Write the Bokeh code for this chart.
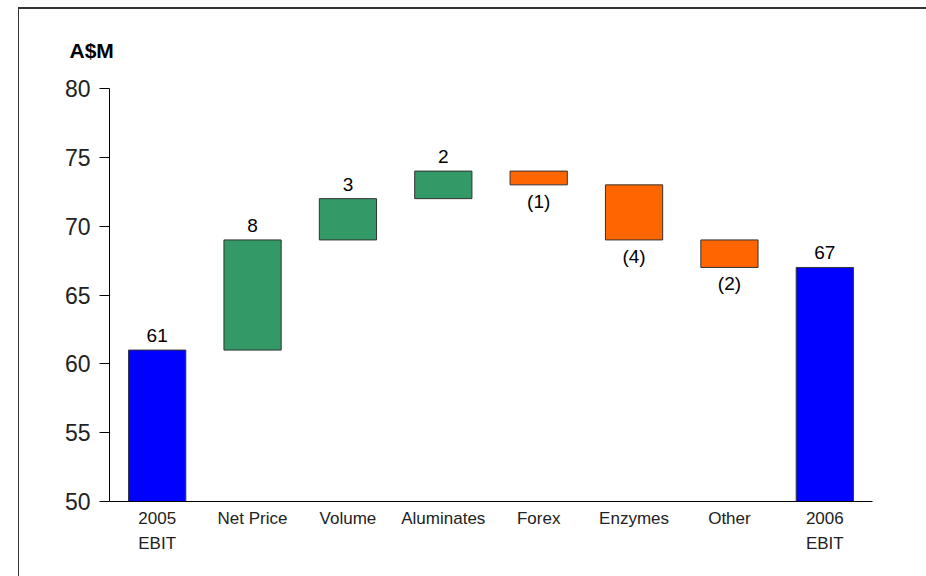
from bokeh.plotting import figure
from bokeh.models import ColumnDataSource, FixedTicker
from bokeh.core.properties import value
from bokeh.embed import file_html
from bokeh.resources import INLINE

categories = ["2005\nEBIT", "Net Price", "Volume", "Aluminates", "Forex", "Enzymes", "Other", "2006\nEBIT"]
start_value = 61
changes = [8, 3, 2, -1, -4, -2]
end_value = 67
y_ticks = [50, 55, 60, 65, 70, 75, 80]
unit_label = "A$M"

BLUE = "#0000FF"
GREEN = "#339966"
ORANGE = "#FF6600"

bottoms, tops, colors, labels = [50], [start_value], [BLUE], [str(start_value)]
cum = start_value
for c in changes:
    nxt = cum + c
    bottoms.append(min(cum, nxt))
    tops.append(max(cum, nxt))
    colors.append(GREEN if c > 0 else ORANGE)
    labels.append(str(c) if c > 0 else "(%d)" % (-c))
    cum = nxt
bottoms.append(50)
tops.append(end_value)
colors.append(BLUE)
labels.append(str(end_value))

kinds = ["total"] + ["up" if c > 0 else "down" for c in changes] + ["total"]
label_y = [t if k != "down" else b for t, b, k in zip(tops, bottoms, kinds)]
label_off = [-8 if k != "down" else 6 for k in kinds]
label_base = ["bottom" if k != "down" else "top" for k in kinds]

src = ColumnDataSource(dict(x=categories, top=tops, bottom=bottoms, color=colors,
                            label=labels, ly=label_y, loff=label_off, lbase=label_base))

p = figure(x_range=categories, y_range=(50, 80), width=908, height=569,
           output_backend="svg", toolbar_location=None,
           min_border_left=90, min_border_right=55, min_border_top=79, min_border_bottom=77)
p.margin = (7, 0, 0, 18)
p.styles = {"border-left": "1px solid #333333", "border-top": "2px solid #333333"}

p.title.text = unit_label
p.title.align = "left"
p.title.offset = -40
p.title.standoff = 54
p.title.text_line_height = 1.0
p.title.text_font = "Liberation Sans"
p.title.text_font_size = "21px"
p.title.text_font_style = "bold"
p.title.text_color = "#000000"

p.vbar(x="x", top="top", bottom="bottom", width=0.6, source=src,
       fill_color="color", line_color="#333333", line_width=1)

p.text(x="x", y="ly", text="label", y_offset="loff", text_baseline="lbase", source=src,
       text_align="center", text_font=value("Liberation Sans"), text_font_size="19px",
       text_color="#000000")

p.xgrid.visible = False
p.ygrid.visible = False
p.outline_line_color = None
p.background_fill_color = "white"
p.border_fill_color = "white"

p.yaxis.ticker = FixedTicker(ticks=y_ticks)
p.yaxis.minor_tick_line_color = None
p.yaxis.major_tick_in = 0
p.yaxis.major_tick_out = 10
p.yaxis.major_tick_line_color = "#000000"
p.yaxis.axis_line_color = "#000000"
p.yaxis.major_label_text_font = "Liberation Sans"
p.yaxis.major_label_text_font_size = "23px"
p.yaxis.major_label_text_color = "#222222"
p.yaxis.major_label_standoff = 9

p.xaxis.major_tick_line_color = None
p.xaxis.minor_tick_line_color = None
p.xaxis.axis_line_color = "#000000"
p.xaxis.major_label_text_font = "Liberation Sans"
p.xaxis.major_label_text_font_size = "17px"
p.xaxis.major_label_text_color = "#222222"
p.xaxis.major_label_text_line_height = 1.35
p.xaxis.major_label_standoff = 1

open("out.html", "w").write(file_html(p, INLINE))
